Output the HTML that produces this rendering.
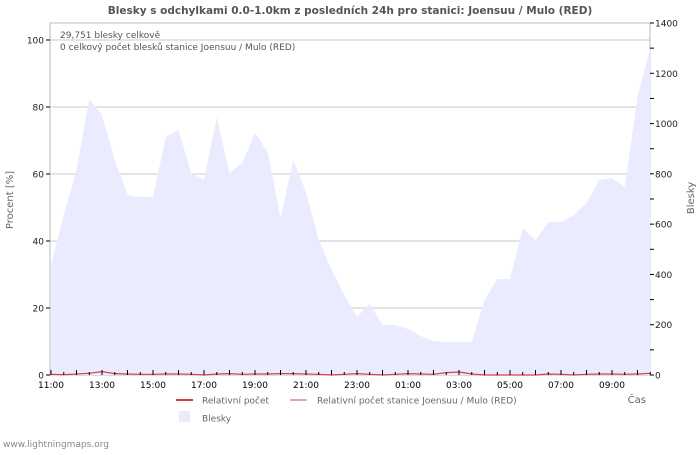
<!DOCTYPE html>
<html><head><meta charset="utf-8"><style>
body{margin:0;background:#fff;width:700px;height:450px;overflow:hidden}
svg{font-family:"DejaVu Sans","Liberation Sans",sans-serif}
</style></head><body>
<svg id="c" width="700" height="450">
<text x="350" y="14" text-anchor="middle" font-size="10.5" font-weight="bold" fill="#555">Blesky s odchylkami 0.0-1.0km z posledních 24h pro stanici: Joensuu / Mulo (RED)</text>
<g id="grid"></g>
<g id="area"></g>
<g id="lines"></g>
<g id="axes"></g>
<text x="60" y="38" font-size="9" fill="#555">29,751 blesky celkově</text>
<text x="60" y="50" font-size="9" fill="#555">0 celkový počet blesků stanice Joensuu / Mulo (RED)</text>
<text transform="translate(13,200) rotate(-90)" text-anchor="middle" font-size="10" fill="#666">Procent   [%]</text>
<text transform="translate(694,198) rotate(-90)" text-anchor="middle" font-size="10" fill="#666">Blesky</text>
<text x="646" y="403" text-anchor="end" font-size="10" fill="#666">Čas</text>
<g>
<line x1="176" y1="400" x2="193" y2="400" stroke="#d94040" stroke-width="2"/>
<text x="202" y="403.5" font-size="9" fill="#666">Relativní počet</text>
<line x1="290" y1="400" x2="307" y2="400" stroke="#f4a0a0" stroke-width="2"/>
<text x="317" y="403.5" font-size="9" fill="#666">Relativní počet stanice Joensuu / Mulo (RED)</text>
<rect x="179" y="411" width="11" height="11" fill="#ebebff"/>
<text x="202" y="421.5" font-size="9" fill="#666">Blesky</text>
</g>
<text x="3" y="447" font-size="9" fill="#888">www.lightningmaps.org</text>
</svg>
<script>
const blesky=[437,636,815,1098,1034,855,716,708,708,947,974,803,776,1026,803,843,962,887,624,855,728,537,418,318,231,282,199,199,183,155,135,131,131,131,298,382,382,585,537,608,608,636,684,776,783,748,1106,1300];
const relPct=[0.2,0.1,0.3,0.5,1.0,0.4,0.3,0.2,0.2,0.3,0.3,0.2,0,0.3,0.4,0.2,0.3,0.3,0.4,0.4,0.3,0.2,0,0.2,0.4,0.2,0,0.2,0.4,0.3,0.2,0.7,0.9,0.3,0,0,0,0,0,0.3,0.2,0,0.2,0.3,0.3,0.2,0.3,0.5];
const hourLabels=["11:00","13:00","15:00","17:00","19:00","21:00","23:00","01:00","03:00","05:00","07:00","09:00"];
const leftTicks=[0,20,40,60,80,100];
const rightTicks=[0,200,400,600,800,1000,1200,1400];
const X0=51,STEP=12.75,BOT=375,TOP=23;
const xs=i=>X0+i*STEP;
const yL=v=>BOT-v*3.35;
const yR=v=>BOT-v*(BOT-TOP)/1400;
const NS="http://www.w3.org/2000/svg";
function mk(p,t,a){const e=document.createElementNS(NS,t);for(const k in a)e.setAttribute(k,a[k]);document.getElementById(p).appendChild(e);return e;}
const fr=mk('grid','rect',{x:50,y:TOP,width:600,height:BOT-TOP,fill:'#fff',stroke:'#bbb'});


leftTicks.forEach(v=>{
 if(v>0){const g=mk('grid','line',{x1:50,x2:650,y1:yL(v),y2:yL(v),stroke:'#c8c8c8'});
 
 }
 const t=mk('axes','text',{x:44,y:yL(v)+3.5,'text-anchor':'end','font-size':9,fill:'#222'});t.textContent=v;
 
 
 mk('axes','line',{x1:46,x2:50,y1:yL(v),y2:yL(v),stroke:'#000'});
});
for(let v=0;v<=1400;v+=100){mk('axes','line',{x1:650,x2:654,y1:yR(v),y2:yR(v),stroke:'#000'});}
rightTicks.forEach(v=>{const t=mk('axes','text',{x:655,y:yR(v)+3.5,'font-size':9,fill:'#222'});t.textContent=v;
 
 });
let d='M'+xs(0)+','+BOT;
blesky.forEach((v,i)=>d+=' L'+xs(i)+','+yR(v));
d+=' L'+xs(blesky.length-1)+','+BOT+' Z';
const ar=mk('area','path',{d:d,fill:'#ebebff'});


let p='';relPct.forEach((v,i)=>p+=(i?' L':'M')+xs(i)+','+yL(v));
const ln=mk('lines','path',{d:p,fill:'none',stroke:'#d94040','stroke-width':1.2});


for(let i=0;i<48;i++){mk('axes','line',{x1:xs(i),x2:xs(i),y1:BOT-(i%2?3:5),y2:BOT,stroke:'#000'});}
hourLabels.forEach((h,i)=>{const t=mk('axes','text',{x:xs(i*4),y:388,'text-anchor':'middle','font-size':9,fill:'#000'});t.textContent=h;
 
 });
</script>
</body></html>
